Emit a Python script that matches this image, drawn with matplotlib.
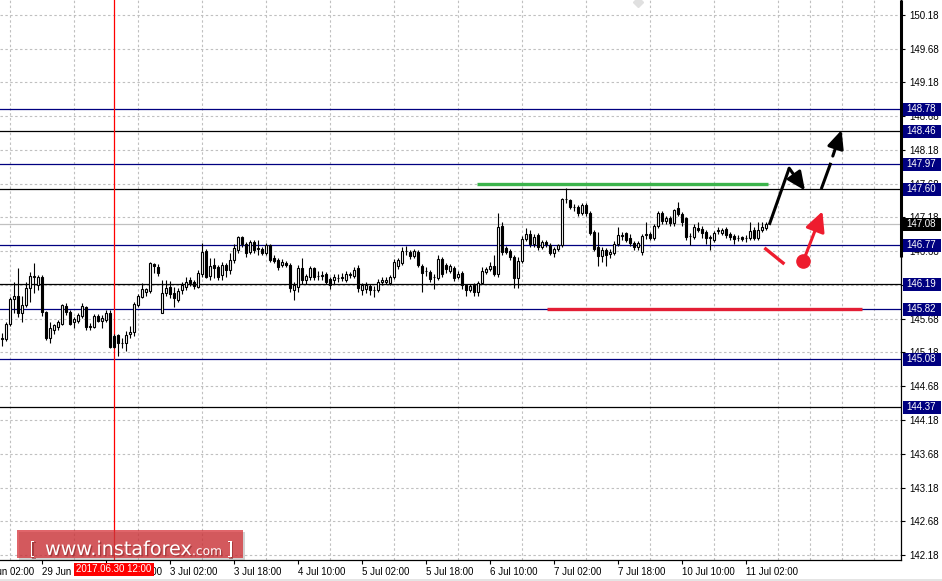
import numpy as np
import matplotlib
matplotlib.use("Agg")
import matplotlib.pyplot as plt
from matplotlib.patches import Rectangle
from matplotlib.ticker import MultipleLocator, FixedLocator
import matplotlib.patheffects as pe

# ---------------- data (USDJPY H1) ----------------
opens = [145.38,145.38,145.60,145.97,146.02,145.77,145.88,146.14,146.30,146.18,
         146.30,145.78,145.40,145.52,145.56,145.60,145.87,145.78,145.63,145.65,
         145.72,145.85,145.56,145.56,145.72,145.65,145.66,145.77,145.42,145.44,
         145.32,145.32,145.45,145.48,145.88,146.00,146.08,146.09,146.49,146.45,
         145.77,146.06,146.15,146.06,145.96,146.11,146.15,146.25,146.22,146.15,
         146.34,146.68,146.31,146.48,146.45,146.33,146.48,146.40,146.55,146.70,
         146.89,146.79,146.67,146.82,146.72,146.71,146.65,146.77,146.58,146.55,
         146.48,146.51,146.48,146.11,146.15,146.43,146.25,146.30,146.43,146.31,
         146.32,146.34,146.27,146.25,146.28,146.29,146.25,146.33,146.31,146.43,
         146.10,146.12,146.16,146.11,146.10,146.22,146.23,146.21,146.30,146.46,
         146.50,146.68,146.67,146.61,146.67,146.46,146.38,146.37,146.30,146.28,
         146.56,146.47,146.39,146.43,146.30,146.36,146.18,146.11,146.18,146.08,
         146.21,146.37,146.42,146.46,146.34,147.05,146.73,146.68,146.59,146.28,
         146.53,146.86,146.94,146.79,146.92,146.74,146.82,146.77,146.65,146.71,
         146.77,147.45,147.44,147.33,147.34,147.25,147.37,147.25,146.97,146.74,
         146.61,146.70,146.64,146.65,146.79,146.91,146.95,146.88,146.80,146.74,
         146.67,146.92,146.94,146.88,147.05,147.25,147.13,147.17,147.10,147.32,
         147.23,147.17,146.90,146.89,147.02,147.01,146.97,146.88,146.85,146.98,
         146.95,147.01,146.93,146.90,146.87,146.89,146.87,146.88,146.99,146.88,
         146.99,147.02]
highs = [145.47,145.63,146.00,146.22,146.43,146.02,146.22,146.37,146.50,146.33,
         146.33,145.80,145.63,145.60,145.66,145.90,145.91,145.81,145.71,145.76,
         145.91,145.87,145.62,145.75,145.75,145.73,145.81,145.81,145.45,145.46,
         145.40,145.50,145.57,145.93,146.05,146.21,146.13,146.52,146.51,146.49,
         146.25,146.25,146.24,146.15,146.13,146.22,146.30,146.30,146.26,146.40,
         146.80,146.71,146.58,146.58,146.48,146.52,146.51,146.65,146.79,146.91,
         146.91,146.81,146.85,146.85,146.85,146.75,146.80,146.79,146.63,146.58,
         146.56,146.54,146.50,146.22,146.48,146.58,146.35,146.46,146.45,146.38,
         146.39,146.37,146.30,146.35,146.34,146.36,146.38,146.37,146.44,146.47,
         146.21,146.22,146.19,146.16,146.27,146.30,146.30,146.33,146.56,146.58,
         146.74,146.76,146.70,146.72,146.70,146.49,146.44,146.40,146.35,146.62,
         146.60,146.51,146.49,146.46,146.38,146.39,146.20,146.20,146.21,146.24,
         146.45,146.45,146.52,146.62,147.25,147.11,146.76,146.72,146.62,146.60,
         146.90,147.03,147.00,146.93,146.95,146.85,146.84,146.80,146.74,146.79,
         147.47,147.62,147.46,147.38,147.36,147.40,147.40,147.28,147.00,146.97,
         146.74,146.73,146.72,146.83,147.04,146.96,146.97,146.93,146.83,146.83,
         146.93,147.11,146.97,147.08,147.28,147.27,147.20,147.20,147.31,147.41,
         147.26,147.19,146.95,147.08,147.11,147.05,146.99,146.92,146.98,147.04,
         147.03,147.04,146.96,146.93,146.92,146.91,146.92,147.11,147.04,147.11,
         147.11,147.11]
lows = [145.28,145.35,145.57,145.77,145.71,145.63,145.85,145.93,146.06,146.10,
        145.72,145.36,145.32,145.45,145.52,145.58,145.74,145.58,145.54,145.62,
        145.69,145.51,145.51,145.55,145.63,145.55,145.63,145.25,145.24,145.13,
        145.25,145.20,145.40,145.43,145.85,145.98,146.02,146.06,146.36,146.32,
        145.76,146.02,145.99,145.85,145.93,146.05,146.10,146.16,146.12,146.13,
        146.30,146.28,146.25,146.28,146.25,146.26,146.30,146.35,146.50,146.66,
        146.74,146.60,146.64,146.66,146.62,146.62,146.63,146.52,146.50,146.40,
        146.44,146.45,146.08,145.96,146.08,146.20,146.20,146.26,146.26,146.25,
        146.26,146.19,146.12,146.20,146.22,146.24,146.22,146.28,146.28,146.08,
        146.03,146.06,146.03,146.00,146.07,146.18,146.19,146.18,146.27,146.42,
        146.47,146.62,146.57,146.58,146.45,146.07,146.32,146.22,146.12,146.26,
        146.30,146.36,146.36,146.24,146.27,146.12,146.02,146.07,146.02,146.02,
        146.19,146.34,146.38,146.31,146.30,146.62,146.64,146.55,146.13,146.13,
        146.50,146.83,146.75,146.75,146.70,146.71,146.75,146.62,146.60,146.69,
        146.74,147.40,147.30,147.28,147.20,147.22,147.20,146.92,146.68,146.46,
        146.52,146.46,146.58,146.62,146.76,146.85,146.82,146.76,146.70,146.70,
        146.63,146.86,146.84,146.85,147.02,147.09,147.08,147.06,147.06,147.20,
        147.06,146.84,146.77,146.86,146.97,146.88,146.79,146.70,146.82,146.94,
        146.92,146.88,146.85,146.79,146.83,146.83,146.82,146.84,146.85,146.85,
        146.96,147.00]
closes = [145.40,145.60,145.97,146.02,145.77,145.88,146.14,146.31,146.32,146.30,
          145.78,145.39,145.54,145.58,145.63,145.88,145.78,145.60,145.68,145.74,
          145.87,145.56,145.57,145.72,145.65,145.69,145.77,145.26,145.26,145.32,
          145.32,145.44,145.48,145.90,146.02,146.12,146.12,146.50,146.46,146.36,
          146.06,146.14,146.05,145.99,146.09,146.18,146.22,146.21,146.17,146.36,
          146.67,146.30,146.46,146.43,146.30,146.48,146.40,146.55,146.73,146.89,
          146.79,146.65,146.82,146.70,146.73,146.65,146.77,146.55,146.54,146.45,
          146.52,146.48,146.14,146.18,146.43,146.25,146.31,146.43,146.30,146.32,
          146.33,146.22,146.18,146.30,146.29,146.30,146.34,146.35,146.40,146.14,
          146.18,146.18,146.11,146.10,146.22,146.25,146.26,146.30,146.52,146.55,
          146.69,146.69,146.61,146.68,146.48,146.36,146.39,146.27,146.30,146.57,
          146.34,146.41,146.46,146.28,146.34,146.18,146.11,146.17,146.08,146.21,
          146.39,146.42,146.46,146.34,147.04,146.67,146.67,146.59,146.28,146.54,
          146.86,146.94,146.79,146.89,146.74,146.82,146.79,146.65,146.71,146.77,
          147.45,147.45,147.33,147.34,147.25,147.36,147.25,146.95,146.71,146.61,
          146.70,146.62,146.67,146.79,146.92,146.92,146.85,146.80,146.74,146.80,
          146.91,146.93,146.88,147.05,147.25,147.13,147.17,147.10,147.29,147.23,
          147.11,146.89,146.91,147.04,147.00,146.95,146.88,146.89,146.95,146.99,
          147.00,146.92,146.89,146.86,146.88,146.86,146.88,146.98,146.88,146.99,
          147.04,147.08]

tick_pos = [-6, 10, 26, 42, 58, 74, 90, 106, 122, 138, 154, 170, 186]
tick_labels = ["29 Jun 02:00", "29 Jun 18:00", "30 Jun 10:00", "3 Jul 02:00",
               "3 Jul 18:00", "4 Jul 10:00", "5 Jul 02:00", "5 Jul 18:00",
               "6 Jul 10:00", "7 Jul 02:00", "7 Jul 18:00", "10 Jul 10:00",
               "11 Jul 02:00"]
price_ticks = [150.18, 149.68, 149.18, 148.68, 148.18, 147.68, 147.18, 146.68,
               146.18, 145.68, 145.18, 144.68, 144.18, 143.68, 143.18, 142.68, 142.18]
navy_levels = [148.78, 147.97, 146.77, 145.82, 145.08]
black_levels = [148.46, 147.60, 146.19, 144.37]
current_price = 147.08
cursor_idx = 28
cursor_label = "2017.06.30 12:00"

# ---------------- figure ----------------
W, H = 942, 581
fig = plt.figure(figsize=(W / 100, H / 100), dpi=100)
fig.patch.set_facecolor("white")
AX_L, AX_B, AX_W, AX_H = 0, 21, 901, 560
ax = fig.add_axes([AX_L / W, AX_B / H, AX_W / W, AX_H / H])
YMIN, YMAX = 142.106, 150.402
XMIN, XMAX = -0.5, 224.75
ax.set_xlim(XMIN, XMAX)
ax.set_ylim(YMIN, YMAX)

for s in ["left", "top"]:
    ax.spines[s].set_visible(False)
for s in ["right", "bottom"]:
    ax.spines[s].set_color("black")
    ax.spines[s].set_linewidth(0.9)

NUMFONT = "Liberation Sans"

# grid
dash = (0, (2.2, 2.2))
ax.yaxis.tick_right()
ax.yaxis.set_major_locator(FixedLocator(price_ticks))
ax.set_yticklabels([f"{p:.2f}" for p in price_ticks], fontsize=7, family=NUMFONT)
ax.tick_params(axis="y", length=3, width=0.8, pad=3, colors="black")
ax.xaxis.set_major_locator(FixedLocator([t for t in tick_pos if t >= XMIN]))
ax.set_xticklabels([l for t, l in zip(tick_pos, tick_labels) if t >= XMIN],
                   fontsize=7, family=NUMFONT, ha="left")
ax.tick_params(axis="x", length=3, width=0.8, pad=2, colors="black")
ax.xaxis.set_minor_locator(MultipleLocator(8, offset=2))
ax.tick_params(axis="x", which="minor", length=0)
ax.grid(axis="y", which="major", color="#c0c0c0", linestyle=dash, linewidth=0.8)
ax.grid(axis="x", which="minor", color="#c0c0c0", linestyle=dash, linewidth=0.8)
ax.set_axisbelow(True)
# clipped first label
ax.text(tick_pos[0], -0.012, tick_labels[0], transform=ax.get_xaxis_transform(),
        fontsize=7, family=NUMFONT, ha="left", va="top", clip_on=False)

# levels
for lv in navy_levels:
    ax.axhline(lv, color="#000080", lw=0.9, zorder=2)
for lv in black_levels:
    ax.axhline(lv, color="#000000", lw=0.9, zorder=2)
ax.axhline(current_price, color="#c0c0c0", lw=0.9, zorder=2)
ax.axvline(cursor_idx, color="#ff0000", lw=0.9, zorder=2.5)

# candles
o = np.array(opens); h = np.array(highs); l = np.array(lows); c = np.array(closes)
x = np.arange(len(c))
up = c >= o
ax.vlines(x, l, h, color="black", lw=0.8, zorder=3)
ax.bar(x, np.abs(c - o), bottom=np.minimum(o, c), width=0.5,
       color=np.where(up, "white", "black"), edgecolor="black",
       linewidth=0.8, zorder=4)

# drawn objects
ax.plot([118.75, 191.5], [147.676, 147.676], color="#3cb44c", lw=2.4,
        solid_capstyle="butt", zorder=6)
ax.plot([136.25, 215.0], [145.826, 145.826], color="#e31e35", lw=2.4,
        solid_capstyle="butt", zorder=6)

ax.plot([191.8, 196.8], [147.07, 147.91], color="black", lw=2.2,
        solid_capstyle="butt", zorder=7)
ax.annotate("", xy=(200.75, 147.58), xytext=(196.8, 147.91),
            arrowprops=dict(arrowstyle="-|>,head_length=1.1,head_width=0.5",
                            color="black", lw=2.2, shrinkA=0, shrinkB=0,
                            mutation_scale=10), zorder=7)
ax.plot([204.8, 207.2], [147.60, 147.99], color="black", lw=2.2,
        solid_capstyle="butt", zorder=7)
ax.annotate("", xy=(209.9, 148.476), xytext=(207.7, 148.09),
            arrowprops=dict(arrowstyle="-|>,head_length=1.1,head_width=0.5",
                            color="black", lw=2.2, shrinkA=0, shrinkB=0,
                            mutation_scale=10), zorder=7)

ax.plot([190.6, 195.6], [146.73, 146.49], color="#ee1c2e", lw=2.4,
        solid_capstyle="butt", zorder=7)
ax.plot([200.2], [146.53], "o", color="#ee1c2e", markersize=9.5, zorder=7)
ax.annotate("", xy=(205.1, 147.27), xytext=(200.75, 146.60),
            arrowprops=dict(arrowstyle="-|>,head_length=1.2,head_width=0.6",
                            color="#ee1c2e", lw=2.2, shrinkA=0, shrinkB=0,
                            mutation_scale=10), zorder=7)

# little gray marker at top
ax.plot([159.0], [150.37], marker="D", color="#e0e0e0", markersize=5,
        clip_on=False, zorder=5)

# thick part of right border
ax.plot([1, 1], [1, 1 - 257 / AX_H], transform=ax.transAxes, color="black",
        lw=2.2, solid_capstyle="butt", clip_on=False, zorder=8)

# ---------------- figure-level labels ----------------
def fig_y(price):
    return (AX_B + (price - YMIN) / (YMAX - YMIN) * AX_H) / H

def price_box(price, fc):
    fy = fig_y(price)
    fig.patches.append(Rectangle((903 / W, fy - 6.5 / H), 38 / W, 13 / H,
                                 transform=fig.transFigure, facecolor=fc,
                                 edgecolor="none", zorder=5))
    fig.text(906 / W, fy, f"{price:.2f}", color="white", fontsize=7,
             family=NUMFONT, va="center", ha="left", zorder=6)

for lv in navy_levels + black_levels:
    price_box(lv, "#000080")
price_box(current_price, "#000000")

# cursor time label
cx = (AX_L + (cursor_idx - XMIN) / (XMAX - XMIN) * AX_W) / W
fig.patches.append(Rectangle((cx - 40 / W, 1 - 576 / H), 80 / W, 13 / H,
                             transform=fig.transFigure, facecolor="#ff0000",
                             edgecolor="none", zorder=5))
fig.text(cx, 1 - 569.5 / H, cursor_label, color="white", fontsize=7,
         family=NUMFONT, ha="center", va="center", zorder=6)

# watermark
fig.patches.append(Rectangle((19 / W, 1 - 560 / H), 226 / W, 28 / H,
                             transform=fig.transFigure, facecolor="#808080",
                             alpha=0.35, edgecolor="none", zorder=7))
fig.patches.append(Rectangle((17 / W, 1 - 558 / H), 226 / W, 28 / H,
                             transform=fig.transFigure, facecolor="#d42a30",
                             alpha=0.72, edgecolor="none", zorder=8))
shadow = [pe.withSimplePatchShadow(offset=(1, -1), shadow_rgbFace="#7a2020", alpha=0.5)]
base = 1 - 555 / H
fig.text(29 / W, base, "[", color="white", fontsize=13.5, family="DejaVu Sans",
         va="baseline", ha="left", zorder=9, path_effects=shadow)
fig.text(45 / W, base, "www.instaforex", color="white", fontsize=13.8,
         family="DejaVu Sans", va="baseline", ha="left", zorder=9, path_effects=shadow)
fig.text(192 / W, base, ".com", color="white", fontsize=8.8,
         family="DejaVu Sans", va="baseline", ha="left", zorder=9, path_effects=shadow)
fig.text(226 / W, base, "]", color="white", fontsize=13.5, family="DejaVu Sans",
         va="baseline", ha="left", zorder=9, path_effects=shadow)

# light bottom strip
fig.patches.append(Rectangle((0, 0), 1, 2 / H, transform=fig.transFigure,
                             facecolor="#e4e4e4", edgecolor="none", zorder=1))

fig.savefig("out.png", dpi=100)
